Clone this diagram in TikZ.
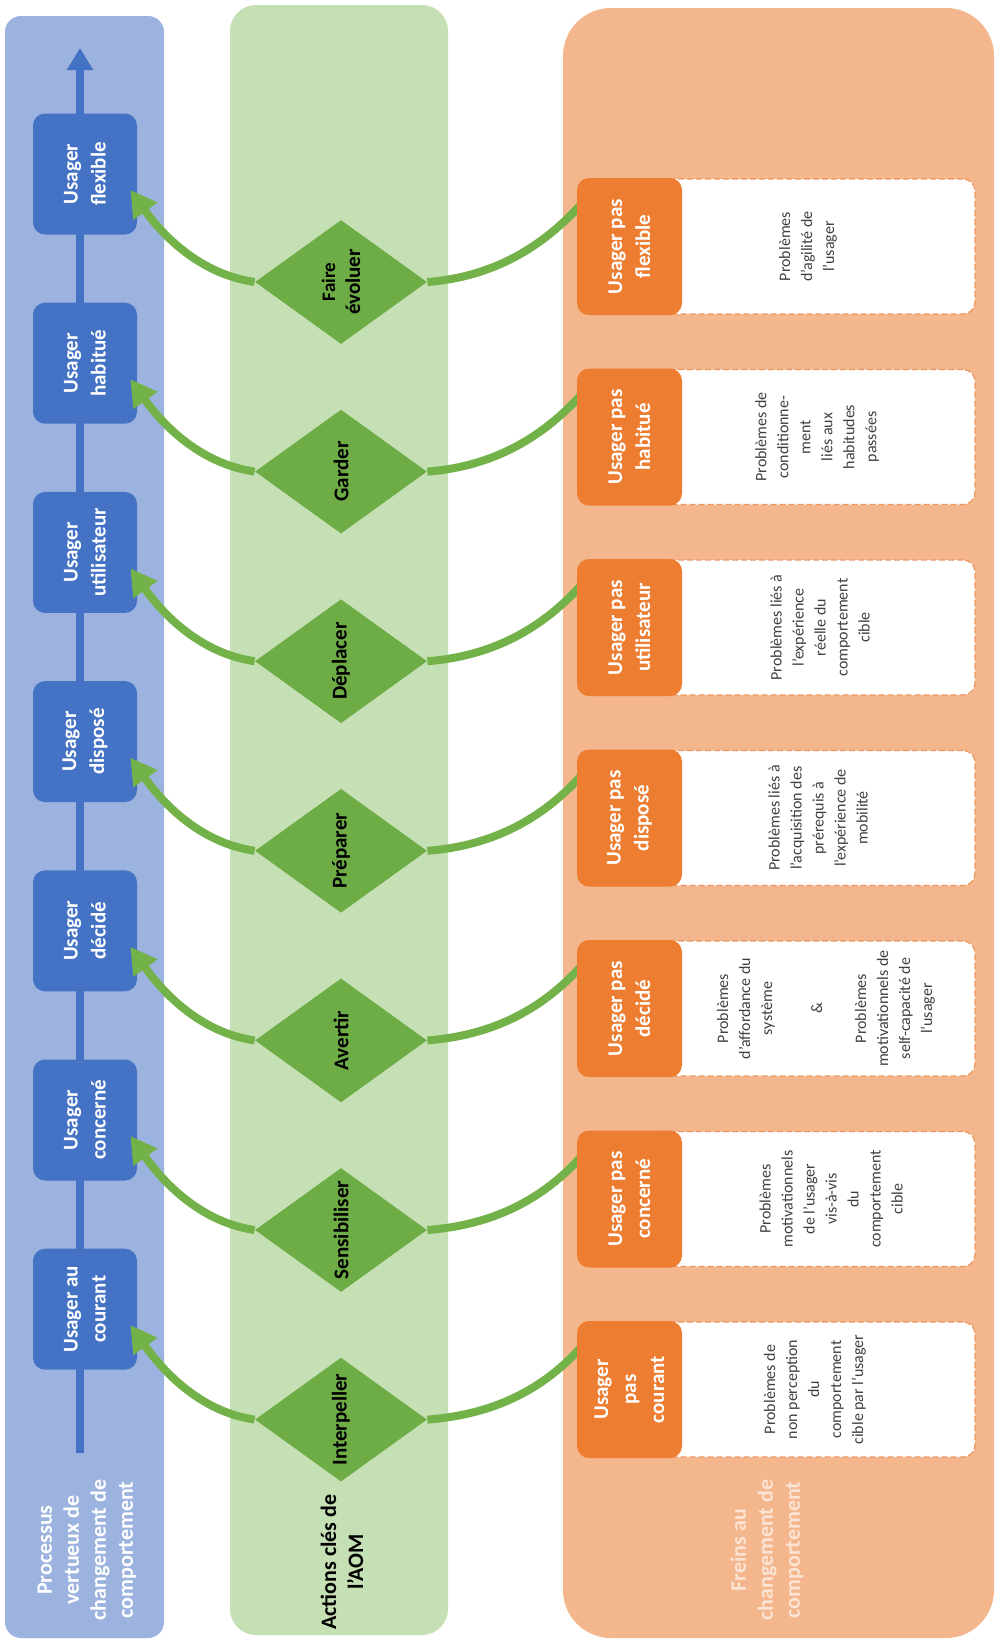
\documentclass[tikz,border=0pt]{standalone}
\usepackage{fontspec}
\setmainfont{Carlito}
\usetikzlibrary{shapes.geometric,arrows.meta}
\definecolor{bluepanel}{RGB}{157,179,223}
\definecolor{blueboxc}{RGB}{68,114,196}
\definecolor{greenpanel}{RGB}{197,224,180}
\definecolor{greendia}{RGB}{110,172,70}
\definecolor{greenline}{RGB}{114,178,72}
\definecolor{orangepanel}{RGB}{244,182,140}
\definecolor{orangeboxc}{RGB}{237,125,49}
\definecolor{dashcol}{RGB}{236,150,95}
\definecolor{greytext}{RGB}{64,64,64}
\definecolor{palelabel}{RGB}{252,228,212}
\pgfdeclarelayer{bg}
\pgfdeclarelayer{boxes}
\pgfdeclarelayer{connlayer}
\pgfsetlayers{bg,boxes,connlayer,main}
\tikzset{
  stagebox/.style={fill=blueboxc, rounded corners=6pt, minimum width=52pt, minimum height=60.5pt, inner sep=0pt},
  brakebox/.style={fill=orangeboxc, rounded corners=6pt, minimum width=52.5pt, minimum height=68.5pt, inner sep=0pt},
  probbox/.style={fill=white, draw=dashcol, dash pattern=on 3pt off 1.5pt, line width=0.6pt, rounded corners=6pt, minimum width=162.5pt, minimum height=67.5pt, inner sep=0pt},
  actiondia/.style={diamond, fill=greendia, minimum width=86pt, minimum height=62pt, inner sep=0pt},
  boxlabel/.style={rotate=90, align=center, text=white, font=\fontsize{10.5}{14}\selectfont\bfseries, inner sep=0pt},
  dialabel/.style={rotate=90, align=center, text=black, font=\fontsize{10.5}{12.5}\selectfont\bfseries, inner sep=0pt},
  problabel/.style={rotate=90, align=center, text=greytext, font=\fontsize{8}{11}\selectfont, inner sep=0pt},
  panellabel/.style={rotate=90, align=center, font=\fontsize{11}{13.5}\selectfont\bfseries, inner sep=0pt},
  greenconn/.style={draw=greenline, line width=4pt},
}
% #1 index, #2 blue text, #3 action, #4 orange text, #5 problem text, #6 x of problem text
\newcommand\myrow[6]{%
  \pgfmathsetmacro\rowby{174+#1*189.2}%
  \pgfmathsetmacro\rowdy{282+#1*189.6}%
  \pgfmathsetmacro\rowoy{246.5+#1*190.5}%
  \begin{pgfonlayer}{boxes}
    \node[stagebox] (b#1) at (85,\rowby) {};
    \node[probbox] (w#1) at (812.5,\rowoy) {};
  \end{pgfonlayer}
  \node[boxlabel] (bt#1) at (b#1) {#2};
  \node[actiondia] (d#1) at (341,\rowdy) {};
  \node[dialabel] (dt#1) at (d#1) {#3};
  \node[brakebox] (o#1) at (629.5,\rowoy) {};
  \node[boxlabel] (ot#1) at (o#1) {#4};
  \node[problabel] (wt#1) at (#6,\rowoy) {#5};
  \coordinate (os#1) at ([xshift=3pt,yshift=-12.5pt]o#1.north west);
  \coordinate (be#1) at ([xshift=-3.5pt,yshift=-8pt]b#1.east);
  \begin{pgfonlayer}{connlayer}
    \draw[greenconn] (os#1) .. controls +(-40,45) and +(65,-5) .. (d#1.east);
    \draw[greenconn,-{Triangle[length=13pt,width=14pt]}] (d#1.west) .. controls +(-55,-8) and +(32,45) .. (be#1);
  \end{pgfonlayer}
}
\begin{document}
\begin{tikzpicture}[x=0.5pt,y=-0.5pt]
\useasboundingbox (0,0) rectangle (996,1640);
\begin{pgfonlayer}{bg}
  \fill[white] (0,0) rectangle (996,1640);
  \fill[bluepanel, rounded corners=8pt] (5,16) rectangle (164,1638);
  \fill[greenpanel, rounded corners=13pt] (230,5) rectangle (448,1635);
  \fill[orangepanel, rounded corners=24pt] (563,8) rectangle (994,1638);
  \coordinate (lbot) at (80,1453);
  \coordinate (ltop) at (80,48);
  \draw[line width=4pt, blueboxc, -{Triangle[length=11pt,width=12.5pt]}] (lbot) -- (ltop);
\end{pgfonlayer}

\myrow{0}{Usager\\flexible}{\fontsize{9.5}{12.5}\selectfont Faire\\évoluer}{Usager pas\\flexible}{Problèmes\\d'agilité de\\l'usager}{808}
\myrow{1}{Usager\\habitué}{Garder}{Usager pas\\habitué}{Problèmes de\\conditionne-\\ment\\liés aux\\habitudes\\passées}{817}
\myrow{2}{Usager\\utilisateur}{Déplacer}{Usager pas\\utilisateur}{Problèmes liés à\\l'expérience\\réelle du\\comportement\\cible}{820}
\myrow{3}{Usager\\disposé}{Préparer}{Usager pas\\disposé}{Problèmes liés à\\l'acquisition des\\prérequis à\\l'expérience de\\mobilité}{818}
\myrow{4}{Usager\\décidé}{Avertir}{Usager pas\\décidé}{Problèmes\\d'affordance du\\système\\[14pt]\&\\[11pt]Problèmes\\motivationnels de\\self-capacité de\\l'usager}{826}
\myrow{5}{Usager\\concerné}{Sensibiliser}{Usager pas\\concerné}{Problèmes\\motivationnels\\de l'usager\\vis-à-vis\\du\\comportement\\cible}{831}
\myrow{6}{Usager au\\courant}{Interpeller}{Usager\\pas\\courant}{Problèmes de\\non perception\\du\\comportement\\cible par l'usager}{815}

\node[panellabel, text=white] (lblblue) at (87,1550) {Processus\\vertueux de\\changement de\\comportement};
\node[panellabel, text=black] (lblgreen) at (342,1562) {Actions clés de\\l'AOM};
\node[panellabel, text=palelabel] (lblorange) at (767,1550) {Freins au\\changement de\\comportement};
\end{tikzpicture}
\end{document}
